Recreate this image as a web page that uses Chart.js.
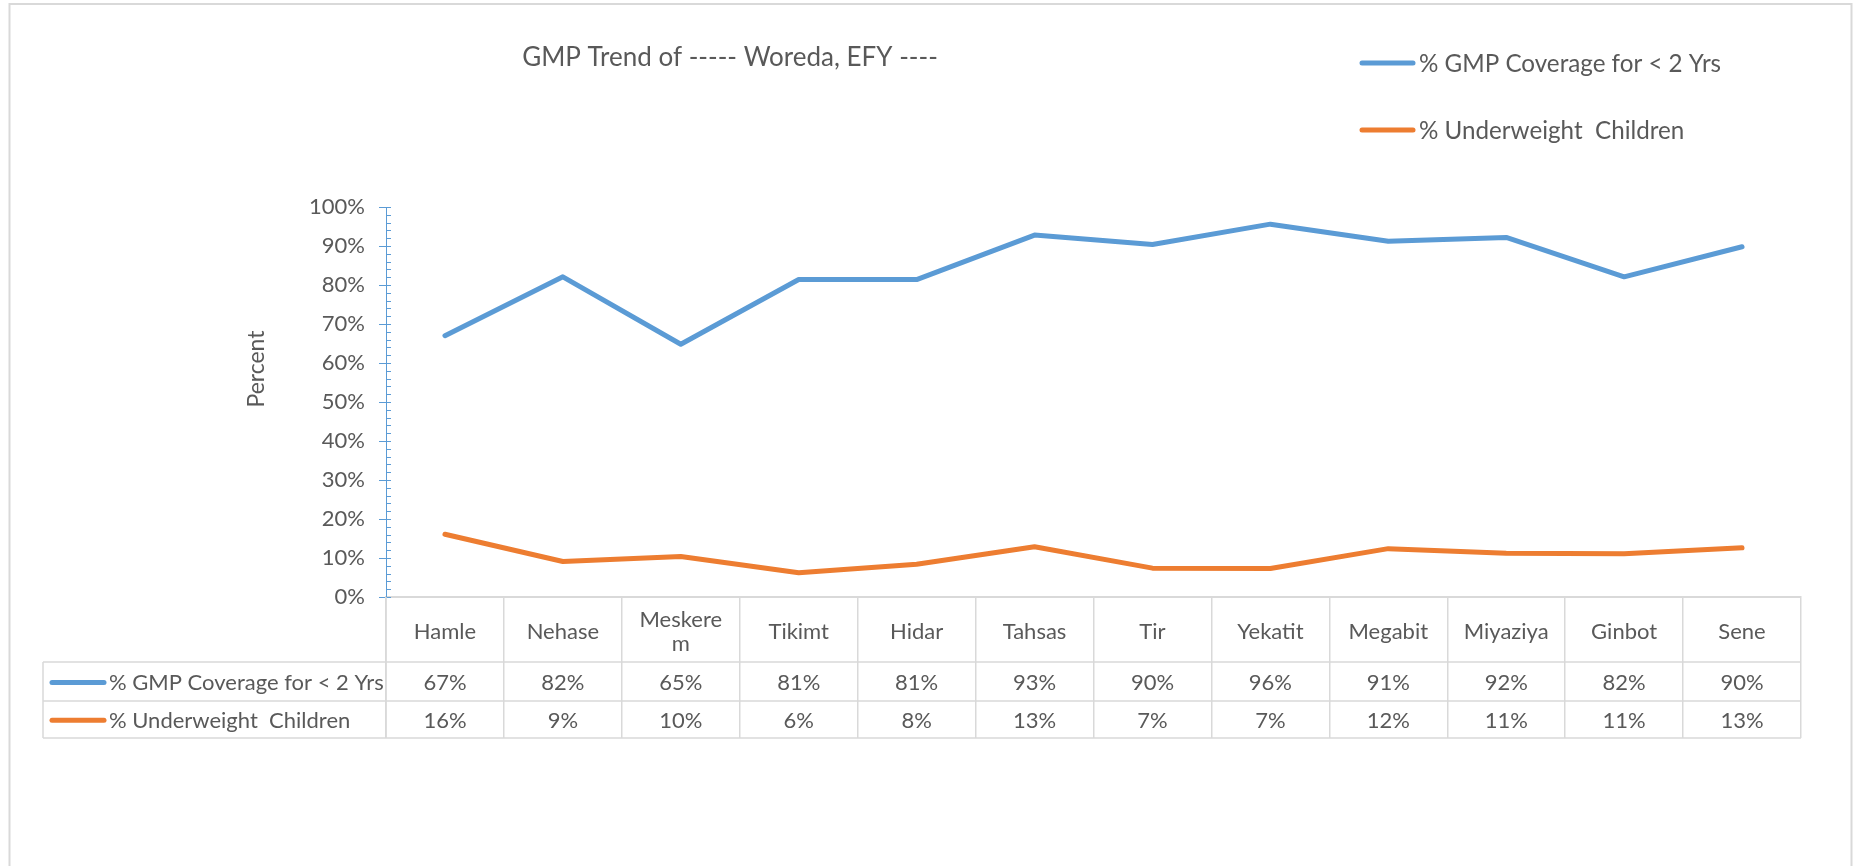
<!DOCTYPE html>
<html>
<head>
<meta charset="utf-8">
<script src="https://cdn.jsdelivr.net/npm/chart.js@4.4.1/dist/chart.umd.min.js"></script>
<style>
  html, body { margin: 0; padding: 0; background: #ffffff; }
  #wrap { width: 1861px; height: 866px; }
</style>
</head>
<body>
<div id="wrap"><canvas id="c" width="1861" height="866"></canvas></div>
<script>
// ---------- data ----------
const chartTitle = 'GMP Trend of ----- Woreda, EFY ----';
const yAxisTitle = 'Percent';
const categories = ['Hamle', 'Nehase', 'Meskerem', 'Tikimt', 'Hidar', 'Tahsas', 'Tir', 'Yekatit', 'Megabit', 'Miyaziya', 'Ginbot', 'Sene'];
const seriesNames = ['% GMP Coverage for < 2 Yrs', '% Underweight  Children'];
const coverage = [67.0, 82.1, 64.8, 81.4, 81.4, 92.8, 90.4, 95.6, 91.2, 92.2, 82.1, 89.8];
const underweight = [16.1, 9.1, 10.4, 6.2, 8.4, 12.9, 7.4, 7.3, 12.4, 11.2, 11.1, 12.6];
const yMin = 0, yMax = 100, yStep = 10, yMinorStep = 2;

// ---------- styles ----------
const BLUE = '#5B9BD5';
const ORANGE = '#ED7D31';
const TEXT = '#595959';
const GRIDC = '#D9D9D9';
const FONT = 'Lato';
const seriesColors = [BLUE, ORANGE];
const seriesData = [coverage, underweight];

const fmtPct = v => Math.round(v) + '%';

function wrapChars(ctx, text, maxW) {
  const lines = [];
  let cur = '';
  for (const ch of text) {
    if (cur && ctx.measureText(cur + ch).width > maxW) { lines.push(cur); cur = ch; }
    else cur += ch;
  }
  if (cur) lines.push(cur);
  return lines;
}

const decor = {
  id: 'decor',
  beforeDraw(chart) {
    const ctx = chart.ctx;
    ctx.save();
    ctx.fillStyle = '#ffffff';
    ctx.fillRect(0, 0, chart.width, chart.height);
    ctx.strokeStyle = GRIDC;
    ctx.lineWidth = 2;
    ctx.strokeRect(9.5, 4, 1842, 900);
    ctx.restore();
  },
  afterDraw(chart) {
    const ctx = chart.ctx;
    const xs = chart.scales.x, ys = chart.scales.y;
    const area = chart.chartArea;
    ctx.save();

    // inner minor/major ticks of the y axis
    ctx.strokeStyle = BLUE;
    ctx.lineWidth = 1;
    for (let v = yMin; v <= yMax + 1e-9; v += yMinorStep) {
      const y = Math.round(ys.getPixelForValue(v)) + 0.5;
      ctx.beginPath();
      ctx.moveTo(area.left, y);
      ctx.lineTo(area.left + 5, y);
      ctx.stroke();
    }

    // title
    ctx.fillStyle = TEXT;
    ctx.textAlign = 'center';
    ctx.textBaseline = 'alphabetic';
    ctx.font = `26px ${FONT}`;
    ctx.fillText(chartTitle, 730, 66);

    // y axis title
    ctx.save();
    ctx.translate(257, 369);
    ctx.rotate(-Math.PI / 2);
    ctx.font = `23px ${FONT}`;
    ctx.textBaseline = 'middle';
    ctx.fillText(yAxisTitle, 0, 0);
    ctx.restore();

    // legend (top right)
    const legY = [63, 130];
    ctx.font = `24.2px ${FONT}`;
    ctx.textAlign = 'left';
    seriesNames.forEach((name, i) => {
      ctx.strokeStyle = seriesColors[i];
      ctx.lineWidth = 5;
      ctx.lineCap = 'round';
      ctx.beginPath();
      ctx.moveTo(1362, legY[i]);
      ctx.lineTo(1413, legY[i]);
      ctx.stroke();
      ctx.fillStyle = TEXT;
      ctx.fillText(name, 1419, legY[i] + 9);
    });

    // data table
    const tLeft = 43, tRight = area.right;
    const rowBottom = 738;
    ctx.strokeStyle = GRIDC;
    ctx.lineWidth = 1.5;
    ctx.lineCap = 'butt';
    [662, 701, rowBottom].forEach(y => {
      ctx.beginPath(); ctx.moveTo(tLeft, y); ctx.lineTo(tRight, y); ctx.stroke();
    });
    ctx.beginPath(); ctx.moveTo(tLeft, 662); ctx.lineTo(tLeft, rowBottom); ctx.stroke();
    ctx.beginPath(); ctx.moveTo(area.left, area.bottom); ctx.lineTo(area.left, rowBottom); ctx.stroke();

    const fs = 22;
    const cap = 0.717 * fs;
    ctx.font = `${fs}px ${FONT}`;
    ctx.fillStyle = TEXT;
    ctx.textAlign = 'center';
    const cellW = (area.right - area.left) / categories.length;
    // header labels
    categories.forEach((c, i) => {
      const x = xs.getPixelForValue(i);
      const lines = wrapChars(ctx, c, cellW - 20);
      const lh = 24;
      const base = 630.8 + cap / 2;
      lines.forEach((ln, k) => {
        ctx.fillText(ln, x, base + (k - (lines.length - 1) / 2) * lh);
      });
    });
    // rows
    const rowCenters = [682.5, 720.3];
    seriesData.forEach((arr, r) => {
      const yb = rowCenters[r] + cap / 2;
      ctx.textAlign = 'center';
      arr.forEach((v, i) => ctx.fillText(fmtPct(v), xs.getPixelForValue(i), yb));
      ctx.strokeStyle = seriesColors[r];
      ctx.lineWidth = 5;
      ctx.lineCap = 'round';
      ctx.beginPath();
      ctx.moveTo(52, rowCenters[r]);
      ctx.lineTo(104, rowCenters[r]);
      ctx.stroke();
      ctx.textAlign = 'left';
      ctx.fillText(seriesNames[r], 109, yb);
    });
    ctx.restore();
  }
};

Chart.defaults.font.family = FONT;
Chart.defaults.color = TEXT;

new Chart(document.getElementById('c'), {
  type: 'line',
  data: {
    labels: categories,
    datasets: seriesData.map((arr, i) => ({
      label: seriesNames[i],
      data: arr,
      borderColor: seriesColors[i],
      backgroundColor: seriesColors[i],
      borderWidth: 5,
      pointRadius: 0,
      pointHoverRadius: 0,
      tension: 0,
      fill: false,
      borderCapStyle: 'round',
      borderJoinStyle: 'round'
    }))
  },
  options: {
    responsive: false,
    animation: false,
    devicePixelRatio: 1,
    layout: { padding: { left: 286, top: 207, right: 60, bottom: 128 } },
    plugins: { legend: { display: false }, title: { display: false }, tooltip: { enabled: false } },
    scales: {
      x: {
        type: 'category',
        offset: true,
        grid: { display: true, drawOnChartArea: false, drawTicks: true, tickLength: 141, color: GRIDC, lineWidth: 1.5, offset: true },
        border: { display: true, color: GRIDC, width: 2 },
        ticks: { display: false },
        afterFit: s => { s.height = 141; }
      },
      y: {
        min: yMin,
        max: yMax,
        ticks: { stepSize: yStep, callback: v => v + '%', color: TEXT, font: { family: FONT, size: 22 }, padding: 14 },
        grid: { display: true, drawOnChartArea: false, drawTicks: true, tickLength: 7, color: BLUE, lineWidth: 1 },
        border: { display: true, color: BLUE, width: 1 },
        afterFit: s => { s.width = 100; }
      }
    }
  },
  plugins: [decor]
});
</script>
</body>
</html>
